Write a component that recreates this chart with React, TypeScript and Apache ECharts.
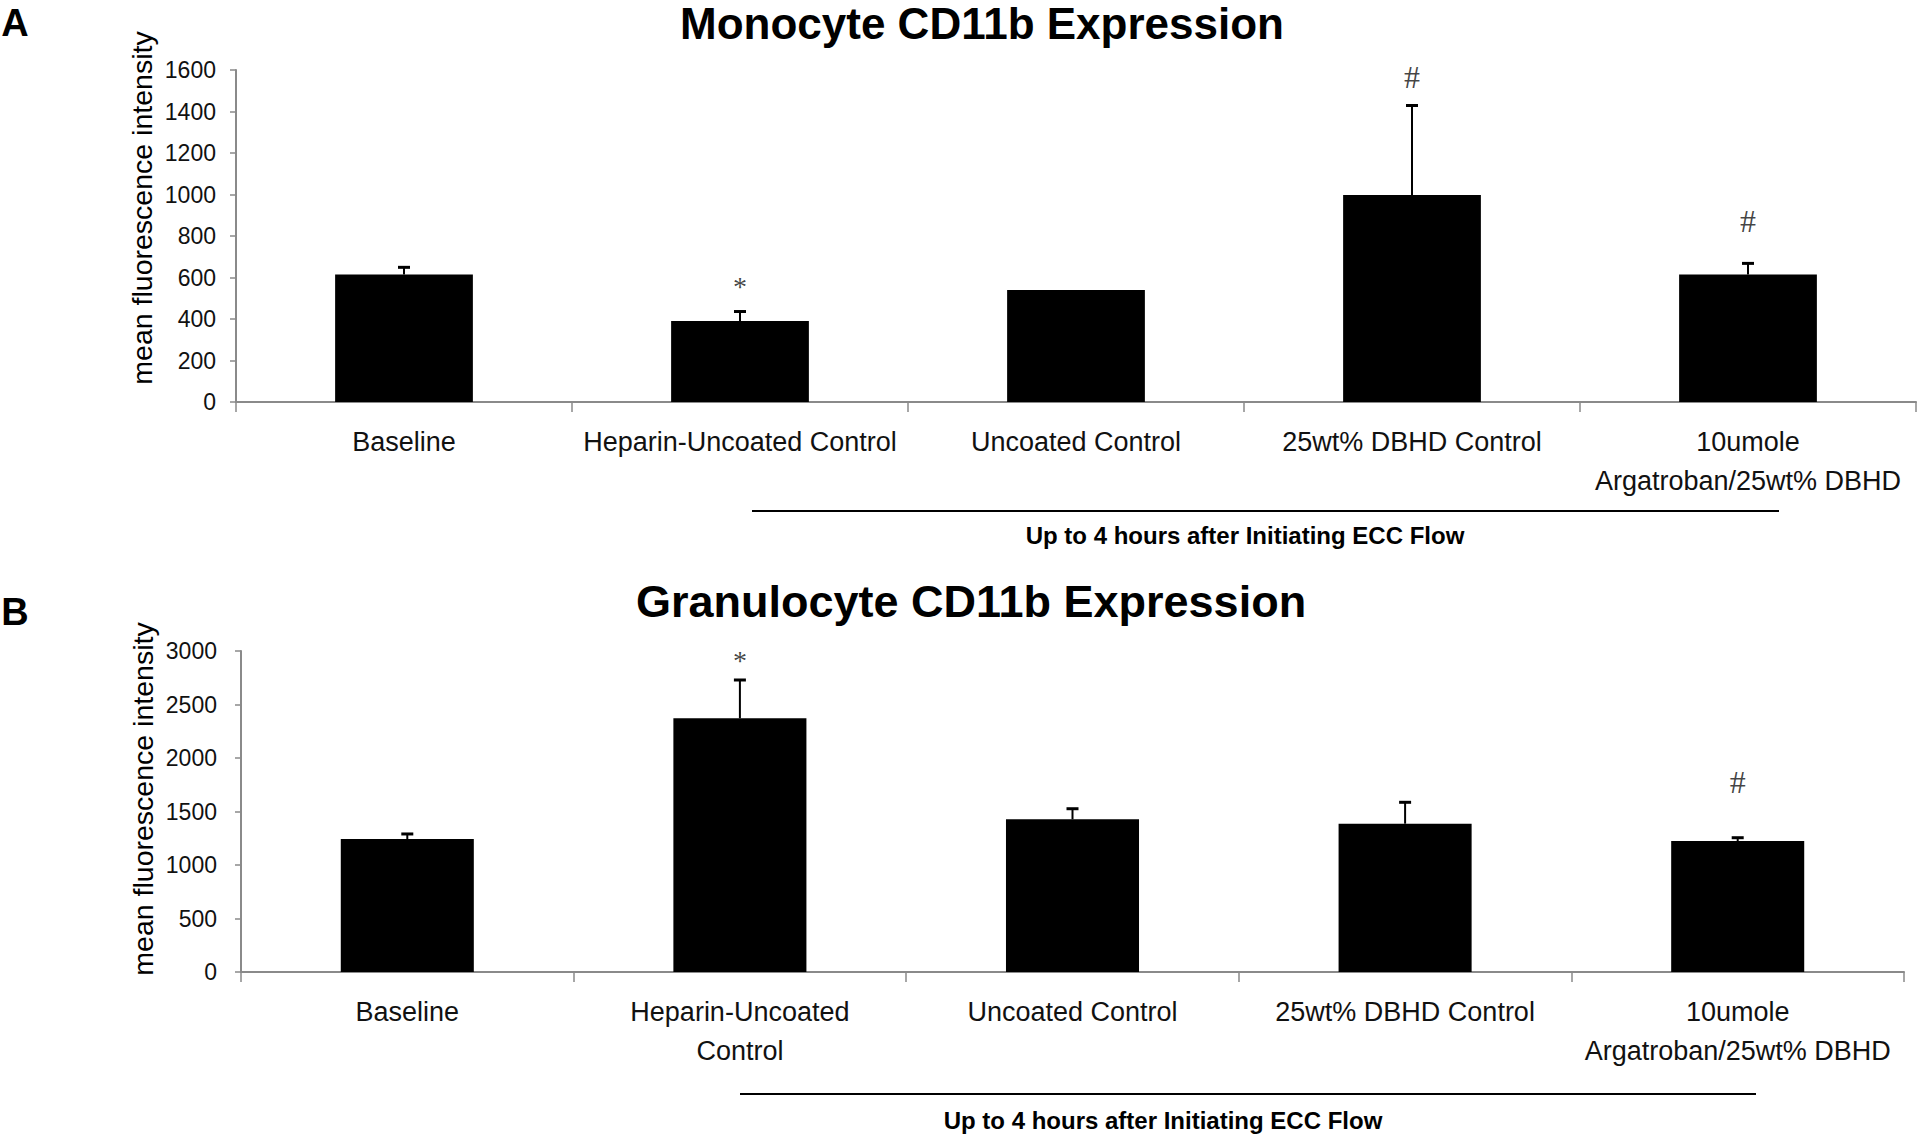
import React, { useEffect, useRef } from "react";
import * as echarts from "echarts";

// ---------- data ----------
const topCategories = [
  "Baseline",
  "Heparin-Uncoated Control",
  "Uncoated Control",
  "25wt% DBHD Control",
  "10umole\nArgatroban/25wt% DBHD",
];
const topValues = [614, 390, 540, 997, 614];
const topErrors = [35, 46, 0, 432, 54];
const topMarks = ["", "*", "", "#", "#"];
const topMarkLevels = [null, 590, null, 1568, 873];
const topTicks = { min: 0, max: 1600, interval: 200 };

const bottomCategories = [
  "Baseline",
  "Heparin-Uncoated\nControl",
  "Uncoated Control",
  "25wt% DBHD Control",
  "10umole\nArgatroban/25wt% DBHD",
];
const bottomValues = [1243, 2371, 1427, 1386, 1224];
const bottomErrors = [47, 358, 99, 200, 31];
const bottomMarks = ["", "*", "", "", "#"];
const bottomMarkLevels = [null, 2981, null, null, 1776];
const bottomTicks = { min: 0, max: 3000, interval: 500 };

const titleTop = "Monocyte CD11b Expression";
const titleBottom = "Granulocyte CD11b Expression";
const yName = "mean fluorescence intensity";
const bracketText = "Up to 4 hours after Initiating ECC Flow";

const FONT = "'Liberation Sans', Arial, sans-serif";
const SERIF = "'Liberation Serif', 'Times New Roman', serif";
const AXIS_GRAY = "#8a8a8a";

function errorRender(params: any, api: any) {
  const x = api.value(0);
  const v = api.value(1);
  const e = api.value(2);
  if (!e) return null;
  const p0 = api.coord([x, v]);
  const p1 = api.coord([x, v + e]);
  return {
    type: "group",
    children: [
      {
        type: "line",
        shape: { x1: p0[0], y1: p0[1], x2: p1[0], y2: p1[1] },
        style: { stroke: "#000", lineWidth: 2 },
      },
      {
        type: "line",
        shape: { x1: p1[0] - 6, y1: p1[1], x2: p1[0] + 6, y2: p1[1] },
        style: { stroke: "#000", lineWidth: 3 },
      },
    ],
  };
}

function markData(marks: string[], levels: (number | null)[]) {
  const out: any[] = [];
  marks.forEach((m, i) => {
    if (!m || levels[i] == null) return;
    out.push({
      value: [i, levels[i]],
      label: {
        show: true,
        formatter: m,
        position: "inside",
        fontSize: m === "*" ? 28 : 32,
        offset: m === "*" ? [0, 7] : [0, 0],
      },
    });
  });
  return out;
}

function xAxisCfg(gridIndex: number, data: string[]) {
  return {
    type: "category",
    gridIndex,
    data,
    axisLine: { show: true, lineStyle: { color: AXIS_GRAY, width: 2 } },
    axisTick: { show: true, length: 10, lineStyle: { color: AXIS_GRAY, width: 1.5 } },
    axisLabel: {
      interval: 0,
      margin: 20,
      fontSize: 27,
      lineHeight: 39,
      color: "#111",
      fontFamily: FONT,
    },
  };
}

function yAxisCfg(gridIndex: number, t: { min: number; max: number; interval: number }, margin: number) {
  return {
    type: "value",
    gridIndex,
    min: t.min,
    max: t.max,
    interval: t.interval,
    splitLine: { show: false },
    axisLine: { show: true, lineStyle: { color: AXIS_GRAY, width: 2 } },
    axisTick: { show: true, length: 6, lineStyle: { color: AXIS_GRAY, width: 1.5 } },
    axisLabel: {
      fontSize: 23,
      color: "#111",
      margin,
      fontFamily: FONT,
      formatter: (v: number) => String(v),
    },
  };
}

function textEl(text: string, x: number, y: number, font: string, extra: any = {}) {
  return {
    type: "text",
    x,
    y,
    ...extra,
    style: {
      text,
      font,
      fill: "#000",
      textAlign: "center",
      textVerticalAlign: "middle",
    },
  };
}

export default function App() {
  const ref = useRef<HTMLDivElement>(null);

  useEffect(() => {
    if (!ref.current) return;
    const chart = echarts.init(ref.current, null, { renderer: "svg" });

    const option: any = {
      animation: false,
      backgroundColor: "#fff",
      grid: [
        { left: 236, right: 4, top: 70, bottom: 1136 - 402 },
        { left: 241, right: 16, top: 651, bottom: 1136 - 972 },
      ],
      xAxis: [xAxisCfg(0, topCategories), xAxisCfg(1, bottomCategories)],
      yAxis: [yAxisCfg(0, topTicks, 20), yAxisCfg(1, bottomTicks, 24)],
      series: [
        {
          type: "bar",
          xAxisIndex: 0,
          yAxisIndex: 0,
          data: topValues,
          barCategoryGap: "59%",
          itemStyle: { color: "#000" },
        },
        {
          type: "bar",
          xAxisIndex: 1,
          yAxisIndex: 1,
          data: bottomValues,
          barCategoryGap: "60%",
          itemStyle: { color: "#000" },
        },
        {
          type: "custom",
          xAxisIndex: 0,
          yAxisIndex: 0,
          renderItem: errorRender,
          encode: { x: 0, y: 1 },
          data: topValues.map((v, i) => [i, v, topErrors[i]]),
          z: 5,
        },
        {
          type: "custom",
          xAxisIndex: 1,
          yAxisIndex: 1,
          renderItem: errorRender,
          encode: { x: 0, y: 1 },
          data: bottomValues.map((v, i) => [i, v, bottomErrors[i]]),
          z: 5,
        },
        {
          type: "scatter",
          xAxisIndex: 0,
          yAxisIndex: 0,
          symbolSize: 0,
          data: markData(topMarks, topMarkLevels),
          label: { show: true, color: "#111", fontFamily: SERIF },
        },
        {
          type: "scatter",
          xAxisIndex: 1,
          yAxisIndex: 1,
          symbolSize: 0,
          data: markData(bottomMarks, bottomMarkLevels),
          label: { show: true, color: "#111", fontFamily: SERIF },
        },
      ],
      graphic: [
        textEl(titleTop, 982, 23, `bold 44px ${FONT}`),
        textEl(titleBottom, 971, 601, `bold 45px ${FONT}`),
        textEl("A", 15, 23, `bold 38px ${FONT}`),
        textEl("B", 15, 612, `bold 38px ${FONT}`),
        textEl(yName, 142, 208, `28.5px ${FONT}`, { rotation: Math.PI / 2 }),
        textEl(yName, 143, 799, `28.5px ${FONT}`, { rotation: Math.PI / 2 }),
        {
          type: "line",
          shape: { x1: 752, y1: 511, x2: 1779, y2: 511 },
          style: { stroke: "#000", lineWidth: 2 },
        },
        {
          type: "line",
          shape: { x1: 740, y1: 1094, x2: 1756, y2: 1094 },
          style: { stroke: "#000", lineWidth: 2 },
        },
        textEl(bracketText, 1245, 535, `bold 24px ${FONT}`),
        textEl(bracketText, 1163, 1120, `bold 24px ${FONT}`),
      ],
    };

    chart.setOption(option);
    return () => chart.dispose();
  }, []);

  return (
    <div
      ref={ref}
      style={{ position: "fixed", left: 0, top: 0, width: 1920, height: 1136, background: "#fff" }}
    />
  );
}
